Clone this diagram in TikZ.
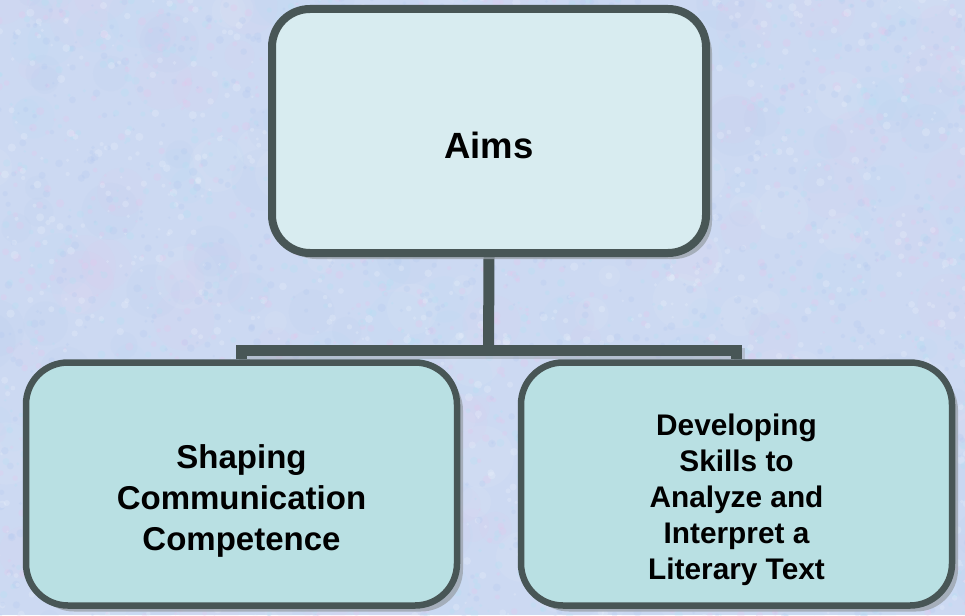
\documentclass[tikz,border=0pt]{standalone}
\usepackage{fontspec}
\setmainfont{Liberation Sans}
\usetikzlibrary{shadows}

\definecolor{bgbase}{HTML}{CCD9F2}
\definecolor{blobpink}{HTML}{E8C4EC}
\definecolor{blobcyan}{HTML}{B0E2F2}
\definecolor{blobwhite}{HTML}{EEF3FC}
\definecolor{blobblue}{HTML}{B2C8F0}
\definecolor{edge}{HTML}{485656}
\definecolor{topfill}{HTML}{D8ECF0}
\definecolor{lowfill}{HTML}{B9E0E3}
\definecolor{shadowgray}{HTML}{98A0A8}

\pgfdeclarelayer{paper}
\pgfdeclarelayer{links}
\pgfsetlayers{paper,links,main}

% centred multi-line label, lowered inside its box without changing the box size
\newcommand{\lowtext}[2]{\raisebox{-#1}[\height][\depth]{\begin{tabular}{@{}c@{}}#2\end{tabular}}}

\tikzset{
  box/.style={draw=edge, align=center, inner sep=0pt, font=\bfseries,
    drop shadow={shadow xshift=6pt, shadow yshift=-6pt, fill=shadowgray, opacity=0.75}},
  conn/.style={draw=edge, line width=11pt, line join=miter, line cap=butt},
  connshadow/.style={draw=shadowgray, line width=11pt, line join=miter, opacity=0.45}
}

\begin{document}
\begin{tikzpicture}[x=1pt, y=-1pt]
\useasboundingbox (0,0) rectangle (965,615);

% mottled paper background
\begin{pgfonlayer}{paper}
\fill[bgbase] (0,0) rectangle (965,615);
\begin{scope}
  \clip (0,0) rectangle (965,615);
  \pgfmathsetseed{4242}
  % broad soft clouds
  \foreach \i in {1,...,320}{
    \pgfmathsetmacro\px{rnd*1005-20}
    \pgfmathsetmacro\py{rnd*655-20}
    \pgfmathsetmacro\pr{10+rnd*22}
    \pgfmathtruncatemacro\pc{rnd*3.99}
    \ifcase\pc \def\blobcol{blobpink}\or \def\blobcol{blobcyan}\or \def\blobcol{blobwhite}\else \def\blobcol{blobblue}\fi
    \fill[\blobcol, opacity=0.09] (\px,\py) circle (\pr pt);
  }
  % fine grain
  \foreach \i in {1,...,4000}{
    \pgfmathsetmacro\px{rnd*975-5}
    \pgfmathsetmacro\py{rnd*625-5}
    \pgfmathsetmacro\pr{1.2+rnd*3}
    \pgfmathtruncatemacro\pc{rnd*3.99}
    \ifcase\pc \def\blobcol{blobpink}\or \def\blobcol{blobcyan}\or \def\blobcol{blobwhite}\else \def\blobcol{blobblue}\fi
    \fill[\blobcol, opacity=0.25] (\px,\py) circle (\pr pt);
  }
\end{scope}
\end{pgfonlayer}

% junction point of the tree
\coordinate (bar) at (488.5,350.5);

% the three boxes
\path (489,131) node[box, fill=topfill, line width=8pt, rounded corners=38pt,
    minimum width=434pt, minimum height=244pt] (aims)
    {\fontsize{36.5}{43}\selectfont\lowtext{18.4pt}{Aims}};
\path (241.5,484) node[box, fill=lowfill, line width=6.5pt, rounded corners=42pt,
    minimum width=431pt, minimum height=243pt] (shape)
    {\fontsize{33}{41}\selectfont\lowtext{16.8pt}{Shaping\\Communication\\Competence}};
\path (736.5,484) node[box, fill=lowfill, line width=6.5pt, rounded corners=42pt,
    minimum width=431pt, minimum height=243pt] (lit)
    {\fontsize{29.8}{36}\selectfont\lowtext{15.8pt}{Developing\\Skills to\\Analyze and\\Interpret a\\Literary Text}};

% tree connectors, kept under the boxes and their shadows
\begin{pgfonlayer}{links}
\draw[connshadow, transform canvas={xshift=2.5pt, yshift=-2.5pt}]
  (shape.north) -- (shape.north |- bar) -- (lit.north |- bar) -- (lit.north);
\draw[conn] (aims.south) -- (bar);
\draw[conn] (shape.north) -- (shape.north |- bar) -- (lit.north |- bar) -- (lit.north);
\end{pgfonlayer}
\end{tikzpicture}
\end{document}
